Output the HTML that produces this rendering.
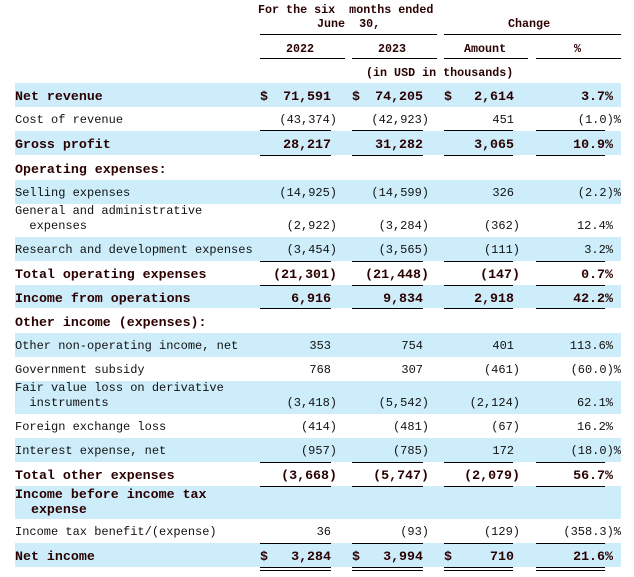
<!DOCTYPE html><html><head><meta charset="utf-8"><style>
body{margin:0;width:634px;height:577px;background:#fff;position:relative;overflow:hidden;font-family:"Liberation Mono","Noto Sans CJK SC",monospace;font-size:12px;color:#111}
.a{position:absolute;white-space:pre;line-height:15px}
.b{font-weight:bold;color:#2a0000;font-size:13.3px}
.h{font-weight:bold;color:#2a0000;font-size:11.7px}
.band{position:absolute;left:15px;width:606px;background:#cdedfb}
.l{position:absolute;height:1px;background:#000}
.r{text-align:right}
</style></head><body>
<div class="band" style="top:83px;height:24px"></div>
<div class="band" style="top:131px;height:24px"></div>
<div class="band" style="top:180px;height:24px"></div>
<div class="band" style="top:237px;height:24px"></div>
<div class="band" style="top:285px;height:23px"></div>
<div class="band" style="top:333px;height:24px"></div>
<div class="band" style="top:381px;height:33px"></div>
<div class="band" style="top:438px;height:24px"></div>
<div class="band" style="top:486px;height:33px"></div>
<div class="band" style="top:543px;height:24px"></div>
<div class="a h" style="left:258px;top:3px">For the six  months ended</div>
<div class="a h" style="left:317px;top:17px">June  30,</div>
<div class="a h" style="left:508px;top:17px">Change</div>
<div class="l" style="left:260px;top:34px;width:177px"></div>
<div class="l" style="left:444px;top:34px;width:177px"></div>
<div class="a h" style="left:286px;top:42px">2022</div>
<div class="a h" style="left:378px;top:42px">2023</div>
<div class="a h" style="left:464px;top:42px">Amount</div>
<div class="a h" style="left:574px;top:42px">%</div>
<div class="l" style="left:260px;top:58px;width:85px"></div>
<div class="l" style="left:352px;top:58px;width:85px"></div>
<div class="l" style="left:444px;top:58px;width:84px"></div>
<div class="l" style="left:536px;top:58px;width:85px"></div>
<div class="a h" style="left:366px;top:66px">(in USD in thousands)</div>
<div id="rows"></div>
<script>
var rows=[
[89,"Net revenue",1,["71,591","74,205","2,614","3.7%"],1],
[113,"Cost of revenue",0,["(43,374)","(42,923)","451","(1.0)%"]],
[137,"Gross profit",1,["28,217","31,282","3,065","10.9%"]],
[162,"Operating expenses:",1,null],
[186,"Selling expenses",0,["(14,925)","(14,599)","326","(2.2)%"]],
[204,"General and administrative\n  expenses",0,["(2,922)","(3,284)","(362)","12.4%"]],
[243,"Research and development expenses",0,["(3,454)","(3,565)","(111)","3.2%"]],
[267,"Total operating expenses",1,["(21,301)","(21,448)","(147)","0.7%"]],
[291,"Income from operations",1,["6,916","9,834","2,918","42.2%"]],
[315,"Other income (expenses):",1,null],
[339,"Other non-operating income, net",0,["353","754","401","113.6%"]],
[363,"Government subsidy",0,["768","307","(461)","(60.0)%"]],
[381,"Fair value loss on derivative\n  instruments",0,["(3,418)","(5,542)","(2,124)","62.1%"]],
[420,"Foreign exchange loss",0,["(414)","(481)","(67)","16.2%"]],
[444,"Interest expense, net",0,["(957)","(785)","172","(18.0)%"]],
[468,"Total other expenses",1,["(3,668)","(5,747)","(2,079)","56.7%"]],
[487,"Income before income tax\n  expense",1,null],
[525,"Income tax benefit/(expense)",0,["36","(93)","(129)","(358.3)%"]],
[549,"Net income",1,["3,284","3,994","710","21.6%"],1]];
var R=[337,429,520,621],D=[260,352,444],h="";
rows.forEach(function(r){
 var c=r[2]?"a b":"a";
 h+='<div class="'+c+'" style="left:15px;top:'+r[0]+'px">'+r[1]+'</div>';
 if(r[3]){var vt=r[0]+(r[1].indexOf("\n")>=0?15:0);
  r[3].forEach(function(v,i){var pr=/\)/.test(v)?0:(i==3?8:6);
   h+='<div class="'+c+' r" style="right:'+(634-R[i]+pr)+'px;top:'+vt+'px">'+v+'</div>';
   if(r[4]&&i<3)h+='<div class="'+c+'" style="left:'+D[i]+'px;top:'+vt+'px">$</div>';});}
});
document.getElementById("rows").innerHTML=h;
var L=[130,155,261,285,308,462,486,543,567,570],X=[[260,71],[352,71],[444,69],[536,69]],g="";
L.forEach(function(y){X.forEach(function(x){g+='<div class="l" style="left:'+x[0]+'px;top:'+y+'px;width:'+x[1]+'px"></div>';});});
document.body.insertAdjacentHTML("beforeend",g);
</script>
</body></html>
